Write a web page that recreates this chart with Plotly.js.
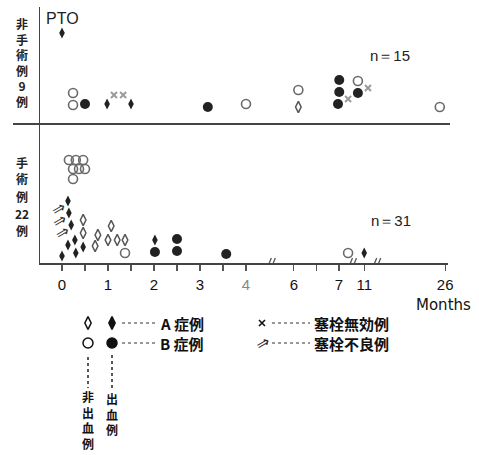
<!DOCTYPE html>
<html><head><meta charset="utf-8">
<script src="https://cdn.plot.ly/plotly-3.0.1.min.js"></script>
<style>html,body{margin:0;padding:0;background:#fff}#chart{width:479px;height:455px}</style>
</head><body><div id="chart"></div>
<script>
// ---- axis (broken time scale, months) ----
const tickMonths = [0, 1, 2, 3, 4, 6, 7, 11, 26];
const tickLabels = ['0', '1', '2', '3', '4', '6', '7', '11', '26'];
const minorTickMonths = [0.5, 1.5, 2.5, 3.5, 6.5];
const breakMonths = [5.1, 9.3, 13.5];
const scaleKnotMonths = [0, 4, 6, 7, 11, 26];
const scaleKnotUnits  = [0, 4, 5.04, 6.02, 6.57, 8.33];

// ---- upper panel: 非手術例 (level = stacking height) ----
const topOpenCircleMonths   = [0.24, 0.24, 4.0, 6.1, 10, 25];
const topOpenCircleLevels   = [2.48, 1.52, 1.6, 2.72, 3.44, 1.36];
const topFilledCircleMonths = [0.5, 3.17, 7.05, 7.05, 6.98, 10];
const topFilledCircleLevels = [1.6, 1.36, 3.52, 2.56, 1.6, 2.48];
const topFilledDiamondMonths = [0, 0.98, 1.5];
const topFilledDiamondLevels = [7.28, 1.6, 1.6];
const topOpenDiamondMonths = [6.1];
const topOpenDiamondLevels = [1.36];
const topCrossMonths = [1.13, 1.33, 8.45, 11.7];
const topCrossLevels = [2.32, 2.32, 2.0, 2.88];

// ---- lower panel: 手術例 ----
const botOpenCircleMonths = [0.15, 0.3, 0.46, 0.24, 0.37, 0.5, 0.24, 1.37, 8.45];
const botOpenCircleLevels = [8.24, 8.24, 8.24, 7.52, 7.52, 7.52, 6.72, 0.8, 0.8];
const botFilledDiamondMonths = [0.13, 0.15, 0.2, 0.0, 0.13, 0.28, 0.46, 0.3, 2.02, 11];
const botFilledDiamondLevels = [4.96, 4.0, 3.04, 0.56, 1.44, 1.84, 1.28, 0.8, 1.84, 0.8];
const botArrowCaseIndex = [0, 1, 2];
const botOpenDiamondMonths = [0.46, 0.46, 0.78, 0.72, 1.07, 1.0, 1.2, 1.37];
const botOpenDiamondLevels = [3.44, 2.4, 2.24, 1.36, 2.96, 1.84, 1.84, 1.84];
const botFilledCircleMonths = [2.02, 2.5, 2.5, 3.57];
const botFilledCircleLevels = [0.88, 1.92, 0.96, 0.72];

const topGroupLabel = ['非', '手', '術', '例', '9', '例'];
const botGroupLabel = ['手', '術', '例', '22', '例'];
const topCountLabel = 'n＝15';
const botCountLabel = 'n＝31';

// ---- helpers ----
function mx(m) {
  const K = scaleKnotMonths, U = scaleKnotUnits;
  if (m <= K[0]) return U[0] + (m - K[0]);
  for (let i = 1; i < K.length; i++) {
    if (m <= K[i]) return U[i-1] + (m - K[i-1]) / (K[i] - K[i-1]) * (U[i] - U[i-1]);
  }
  const n = K.length - 1;
  return U[n] + (m - K[n]) * (U[n] - U[n-1]) / (K[n] - K[n-1]);
}
const W = 479, H = 455;
const px = v => v / W, py = v => 1 - v / H;

const STY = {
  openCircle:   {symbol: 'circle-open', size: 9, color: '#6a6a6a', line: {width: 1.6, color: '#6a6a6a'}},
  filledCircle: {symbol: 'circle', size: 10, color: '#222'},
  filledDiamond:{symbol: 'diamond-tall', size: 8, color: '#222'},
  openDiamond:  {symbol: 'diamond-tall-open', size: 8, color: '#555', line: {width: 1.5, color: '#555'}},
  cross:        {symbol: 'x-thin-open', size: 6, color: '#9a9a9a', line: {width: 2, color: '#9a9a9a'}}
};
function tr(months, levels, yax, sty) {
  return {type: 'scatter', mode: 'markers', x: months.map(mx), y: levels,
    xaxis: 'x', yaxis: yax, marker: sty, hoverinfo: 'skip', cliponaxis: false, showlegend: false};
}

const data = [
  tr(topOpenCircleMonths, topOpenCircleLevels, 'y2', STY.openCircle),
  tr(topFilledCircleMonths, topFilledCircleLevels, 'y2', STY.filledCircle),
  tr(topFilledDiamondMonths, topFilledDiamondLevels, 'y2', STY.filledDiamond),
  tr(topOpenDiamondMonths, topOpenDiamondLevels, 'y2', STY.openDiamond),
  tr(topCrossMonths, topCrossLevels, 'y2', STY.cross),
  tr(botOpenCircleMonths, botOpenCircleLevels, 'y', STY.openCircle),
  tr(botFilledDiamondMonths, botFilledDiamondLevels, 'y', STY.filledDiamond),
  tr(botOpenDiamondMonths, botOpenDiamondLevels, 'y', STY.openDiamond),
  tr(botFilledCircleMonths, botFilledCircleLevels, 'y', STY.filledCircle),
  // legend symbols (hidden full-page axes in pixel units)
  {type: 'scatter', mode: 'markers', x: [88, 112], y: [323, 323], xaxis: 'x3', yaxis: 'y3',
   marker: {symbol: ['diamond-tall-open', 'diamond-tall'], size: 9, color: '#111', line: {width: 1.5, color: '#111'}},
   hoverinfo: 'skip', showlegend: false, cliponaxis: false},
  {type: 'scatter', mode: 'markers', x: [88, 112], y: [343, 343], xaxis: 'x3', yaxis: 'y3',
   marker: {symbol: ['circle-open', 'circle'], size: 10, color: '#111', line: {width: 1.5, color: '#111'}},
   hoverinfo: 'skip', showlegend: false, cliponaxis: false},
  {type: 'scatter', mode: 'markers', x: [262], y: [323], xaxis: 'x3', yaxis: 'y3',
   marker: {symbol: 'x-thin-open', size: 6, color: '#111', line: {width: 1.6, color: '#111'}},
   hoverinfo: 'skip', showlegend: false, cliponaxis: false}
];

const CJK = 'Noto Sans CJK JP';
const ann = [];
function A(o) { ann.push(Object.assign({showarrow: false, xanchor: 'center', yanchor: 'middle'}, o)); }
// vertical group captions
A({xref: 'paper', yref: 'paper', x: px(22), y: py(63), text: topGroupLabel.join('<br>'),
  font: {family: CJK, size: 12, color: '#222', weight: 'bold'}});
const botYs = [162, 179, 196, 213, 230];
botGroupLabel.forEach((c, i) => A({xref: 'paper', yref: 'paper', x: px(22), y: py(botYs[i]), text: c,
  font: {family: CJK, size: 12, color: '#222', weight: 'bold'}}));
// legend vertical captions
A({xref: 'paper', yref: 'paper', x: px(88), y: py(420), text: '非<br>出<br>血<br>例',
  font: {family: CJK, size: 12, color: '#111', weight: 'bold'}});
A({xref: 'paper', yref: 'paper', x: px(112), y: py(414), text: '出<br>血<br>例',
  font: {family: CJK, size: 12, color: '#111', weight: 'bold'}});

A({xref: 'x', yref: 'y2', x: mx(0), y: 8.4, text: 'PTO',
  font: {family: 'Liberation Sans', size: 16, color: '#222'}});
A({xref: 'paper', yref: 'paper', x: px(390), y: py(55), text: topCountLabel,
  font: {family: 'Liberation Sans', size: 15, color: '#222'}});
A({xref: 'paper', yref: 'paper', x: px(391), y: py(220), text: botCountLabel,
  font: {family: 'Liberation Sans', size: 15, color: '#222'}});
A({xref: 'paper', yref: 'paper', x: px(443), y: py(305), text: 'Months',
  font: {family: 'DejaVu Sans', size: 15, color: '#111'}});
// arrows (塞栓不良例) attached to cases
botArrowCaseIndex.forEach(i => A({xref: 'x', yref: 'y', x: mx(botFilledDiamondMonths[i]),
  y: botFilledDiamondLevels[i], xshift: -9, yshift: -8, text: '⇒', textangle: -30,
  font: {family: 'DejaVu Sans', size: 16, color: '#333'}}));
// legend texts
const legTxt = [['A 症例', 158, 323], ['B 症例', 158, 343], ['塞栓無効例', 312, 323], ['塞栓不良例', 312, 343]];
legTxt.forEach(t => A({xref: 'paper', yref: 'paper', x: px(t[1]), y: py(t[2]), text: t[0],
  xanchor: 'left', font: {family: CJK, size: 15, color: '#111', weight: 'bold'}}));
A({xref: 'paper', yref: 'paper', x: px(262), y: py(343), text: '⇒', textangle: -30,
  font: {family: 'DejaVu Sans', size: 16, color: '#222'}});

const shapes = [];
// divider between panels
shapes.push({type: 'line', xref: 'paper', yref: 'paper', x0: px(13), x1: px(450), y0: py(124), y1: py(124),
  line: {color: '#444', width: 2}});
// break marks on x axis
breakMonths.forEach(b => {
  [-3, 1].forEach(o => shapes.push({type: 'line', xref: 'x', yref: 'y', xsizemode: 'pixel', ysizemode: 'pixel',
    xanchor: mx(b), yanchor: 0, x0: o - 2, x1: o + 2, y0: -5, y1: 5, line: {color: '#555', width: 1.3}}));
});
// dotted leaders
[[122, 156, 323], [122, 156, 343], [272, 310, 323], [272, 310, 343]].forEach(d =>
  shapes.push({type: 'line', xref: 'paper', yref: 'paper', x0: px(d[0]), x1: px(d[1]), y0: py(d[2]), y1: py(d[2]),
    line: {color: '#777', width: 1.5, dash: 'dot'}}));
[[88, 357, 388], [112, 355, 388]].forEach(d =>
  shapes.push({type: 'line', xref: 'paper', yref: 'paper', x0: px(d[0]), x1: px(d[0]), y0: py(d[1]), y1: py(d[2]),
    line: {color: '#222', width: 1.5, dash: 'dot'}}));

const allTicks = tickMonths.concat(minorTickMonths).map(mx);
const allText = tickLabels.map(t => t === '4' ? '<span style="color:#888">4</span>' : t).concat(minorTickMonths.map(() => ''));

const layout = {
  width: W, height: H, margin: {l: 0, r: 0, t: 0, b: 0},
  paper_bgcolor: '#fff', plot_bgcolor: 'rgba(0,0,0,0)', showlegend: false,
  xaxis: {domain: [px(40), px(448)], range: [(40 - 62) / 46, (448 - 62) / 46], anchor: 'y',
    showline: true, linecolor: '#444', linewidth: 2, showgrid: false, zeroline: false,
    tickmode: 'array', tickvals: allTicks, ticktext: allText, ticks: 'outside', ticklen: 6,
    tickwidth: 1.3, tickcolor: '#555', ticklabelstandoff: 1,
    tickfont: {family: 'Liberation Sans', size: 15, color: '#111'}, fixedrange: true},
  yaxis: {domain: [1 - 263 / H, 1 - 124 / H], range: [0, 139 / 12.5], anchor: 'x',
    showline: true, linecolor: '#444', linewidth: 1.5, showgrid: false, zeroline: false,
    showticklabels: false, ticks: '', fixedrange: true},
  yaxis2: {domain: [1 - 124 / H, 1 - 7 / H], range: [0, 117 / 12.5], anchor: 'x',
    showline: true, linecolor: '#444', linewidth: 1.5, showgrid: false, zeroline: false,
    showticklabels: false, ticks: '', fixedrange: true},
  xaxis3: {domain: [0, 1], range: [0, W], anchor: 'y3', visible: false, fixedrange: true},
  yaxis3: {domain: [0, 1], range: [H, 0], anchor: 'x3', visible: false, fixedrange: true},
  annotations: ann, shapes: shapes
};
Plotly.newPlot('chart', data, layout, {staticPlot: true, displayModeBar: false});
</script></body></html>
